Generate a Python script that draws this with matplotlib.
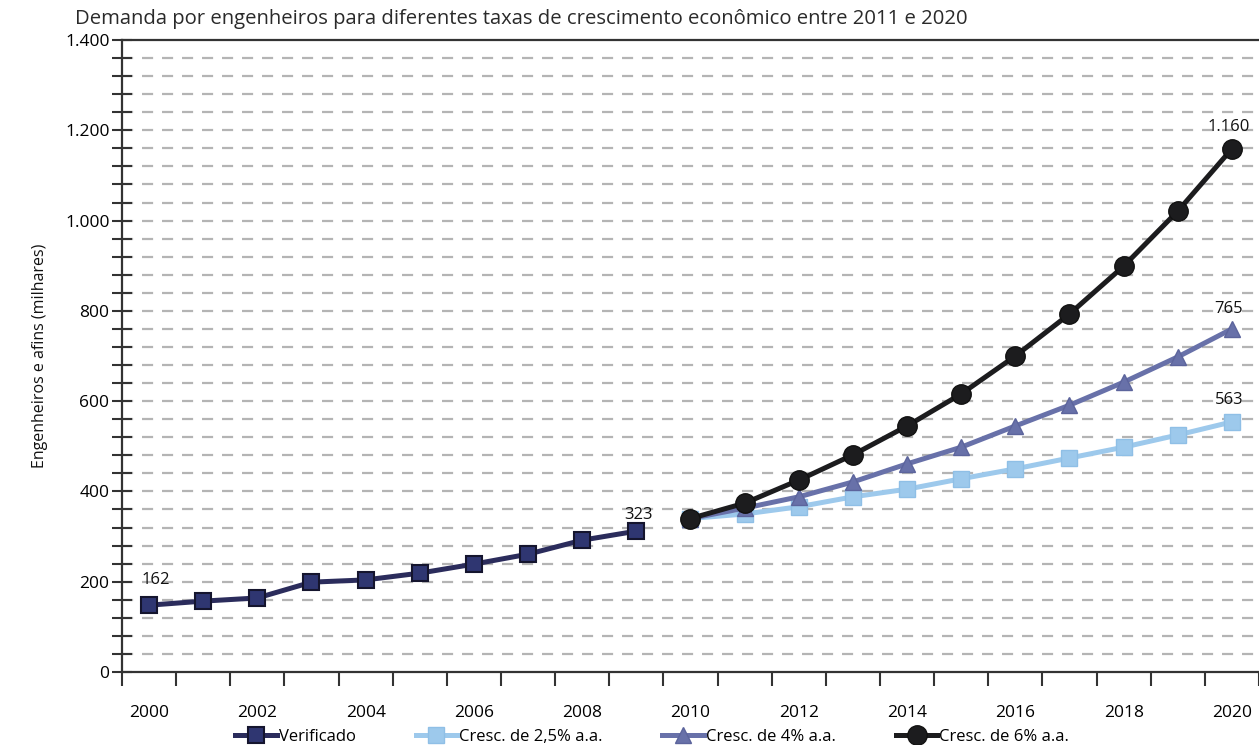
import matplotlib
matplotlib.use("Agg")
import matplotlib.pyplot as plt
from matplotlib.ticker import MultipleLocator, FuncFormatter

# dados (milhares)
anos_verif = [2000, 2001, 2002, 2003, 2004, 2005, 2006, 2007, 2008, 2009]
verificado = [148, 157, 164, 199, 204, 219, 239, 261, 292, 312]

anos_proj = [2010, 2011, 2012, 2013, 2014, 2015, 2016, 2017, 2018, 2019, 2020]
cresc_25 = [340, 350, 366, 388, 405, 428, 450, 474, 498, 525, 554]
cresc_4 = [340, 363, 388, 421, 461, 498, 545, 591, 642, 698, 760]
cresc_6 = [340, 374, 425, 481, 545, 616, 700, 793, 899, 1021, 1159]

rotulos_x = [2000, 2002, 2004, 2006, 2008, 2010, 2012, 2014, 2016, 2018, 2020]
titulo = "Demanda por engenheiros para diferentes taxas de crescimento econômico entre 2011 e 2020"

plt.rcParams['font.family'] = ['Open Sans', 'DejaVu Sans']

fig = plt.figure(figsize=(12.59, 7.45), dpi=100)
ax = fig.add_axes([0.0969, 0.098, 0.9031, 0.8483])

ax.plot(anos_proj, cresc_25, color='#9dc9ec', lw=3.6, marker='s', ms=11,
        mfc='#9dc9ec', mec='#8fbfe6', mew=1, label='Cresc. de 2,5% a.a.', zorder=3)
ax.plot(anos_proj, cresc_4, color='#6871a9', lw=3.6, marker='^', ms=12,
        mfc='#6871a9', mec='#5c649c', mew=1, label='Cresc. de 4% a.a.', zorder=4)
ax.plot(anos_proj, cresc_6, color='#1c1c1e', lw=3.6, marker='o', ms=14,
        mfc='#1c1c1e', mec='#111111', mew=1, label='Cresc. de 6% a.a.', zorder=5)
ax.plot(anos_verif, verificado, color='#2b2c5c', lw=3.6, marker='s', ms=12,
        mfc='#2f3671', mec='#15152e', mew=1.5, label='Verificado', zorder=6)

# rotulos de valores
rot = dict(fontsize=12, color='#111111', ha='center', va='center', textcoords='offset pixels')
ax.annotate('162', (anos_verif[0], verificado[0]), xytext=(7, 25), **rot)
ax.annotate('323', (anos_verif[-1], verificado[-1]), xytext=(2, 16), **rot)
ax.annotate('1.160', (anos_proj[-1], cresc_6[-1]), xytext=(-3, 22), **rot)
ax.annotate('765', (anos_proj[-1], cresc_4[-1]), xytext=(-3, 20), **rot)
ax.annotate('563', (anos_proj[-1], cresc_25[-1]), xytext=(-3, 22), **rot)

ax.set_xlim(1999.5, 2020.5)
ax.set_ylim(0, 1400)

# eixo y
ax.yaxis.set_major_locator(MultipleLocator(200))
ax.yaxis.set_minor_locator(MultipleLocator(40))
ax.yaxis.set_major_formatter(FuncFormatter(lambda v, p: f"{v:,.0f}".replace(",", ".")))
ax.tick_params(axis='y', which='both', direction='inout', length=14, width=1.5,
               color='#333333', labelsize=12.5, labelcolor='#000000', pad=2)
for y in range(40, 1400, 40):
    ax.axhline(y, color='#b4b4b4', lw=1.6, ls=(0, (5, 4)), zorder=1)

# eixo x: tracos entre os anos, rotulos nos anos pares
ax.set_xticks([a - 0.5 for a in range(2000, 2022)])
ax.set_xticklabels([])
ax.set_xticks(rotulos_x, minor=True)
ax.set_xticklabels([str(a) for a in rotulos_x], minor=True)
ax.tick_params(axis='x', which='major', direction='out', length=10, width=1.5, color='#333333')
ax.tick_params(axis='x', which='minor', length=0, labelsize=12.5, labelcolor='#000000', pad=24)

for s in ['left', 'bottom', 'top']:
    ax.spines[s].set_linewidth(1.6)
    ax.spines[s].set_color('#333333')
ax.spines['right'].set_visible(False)

ax.set_ylabel("Engenheiros e afins (milhares)", fontsize=11.5, color='#111111', labelpad=12)

fig.text(0.0596, 0.975, titulo, fontsize=14.6, color='#2a2a2a', ha='left', va='center')

h, l = ax.get_legend_handles_labels()
ordem = [3, 0, 1, 2]
fig.legend([h[i] for i in ordem], [l[i] for i in ordem], loc='center', bbox_to_anchor=(0.518, 0.011),
           ncol=4, frameon=False, fontsize=12, handlelength=2.5, handletextpad=0.1,
           columnspacing=3.6, borderpad=0)

fig.savefig("out.png", dpi=100)
